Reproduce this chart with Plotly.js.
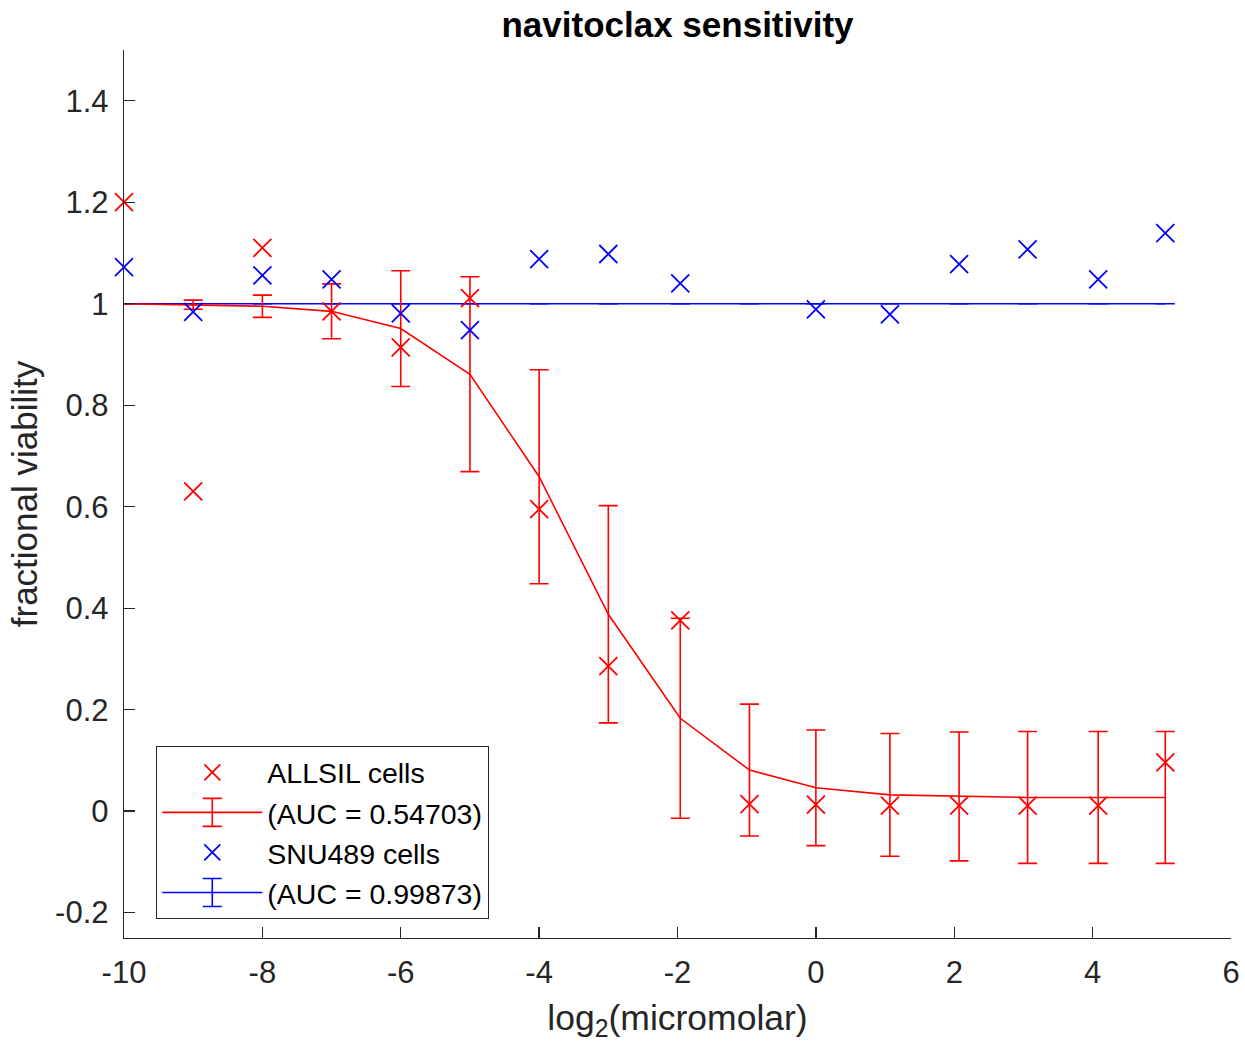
<!DOCTYPE html>
<html>
<head>
<meta charset="utf-8">
<script src="https://cdn.plot.ly/plotly-3.0.1.min.js"></script>
<style>
  html, body { margin: 0; padding: 0; background: #ffffff; }
  #chart { width: 1245px; height: 1042px; }
</style>
</head>
<body>
<div id="chart"></div>
<script>
// ---- data ----
const logConc = [-10, -9, -8, -7, -6, -5, -4, -3, -1.96, -0.96, 0, 1.07, 2.07, 3.06, 4.08, 5.05];

const allsilViability = [1.2, 0.63, 1.11, 0.985, 0.914, 1.011, 0.595, 0.286, 0.376, 0.014, 0.013, 0.011, 0.011, 0.011, 0.011, 0.096];
const allsilFit = [1.0, 0.998, 0.995, 0.985, 0.951, 0.861, 0.659, 0.388, 0.183, 0.081, 0.046, 0.032, 0.029, 0.027, 0.027, 0.027];
const allsilFitErr = [0.0, 0.009, 0.022, 0.054, 0.114, 0.192, 0.211, 0.214, 0.197, 0.13, 0.114, 0.121, 0.127, 0.13, 0.13, 0.13];

const snuViability = [1.072, 0.984, 1.056, 1.048, 0.981, 0.948, 1.088, 1.098, 1.04, null, 0.989, 0.979, 1.078, 1.107, 1.048, 1.139];
const snuFit = [1, 1, 1, 1, 1, 1, 1, 1, 1, 1, 1, 1, 1, 1, 1, 1];
const snuFitErr = [0, 0, 0, 0, 0, 0, 0, 0, 0, 0, 0, 0, 0, 0, 0, 0];

const seriesNames = ['ALLSIL cells', '(AUC = 0.54703)', 'SNU489 cells', '(AUC = 0.99873)'];

const xTickVals = [-10, -8, -6, -4, -2, 0, 2, 4, 6];
const xTickText = ['-10', '-8', '-6', '-4', '-2', '0', '2', '4', '6'];
const yTickVals = [-0.2, 0, 0.2, 0.4, 0.6, 0.8, 1, 1.2, 1.4];
const yTickText = ['-0.2', '0', '0.2', '0.4', '0.6', '0.8', '1', '1.2', '1.4'];

// ---- styling ----
const RED = '#ff0000';
const BLUE = '#0000ff';
const AXC = '#262626';
const FONT = '"Liberation Sans", Arial, Helvetica, sans-serif';

const traces = [
  {
    x: logConc, y: snuFit, name: seriesNames[3], legendrank: 4,
    type: 'scatter', mode: 'lines', cliponaxis: false,
    line: { color: BLUE, width: 1.6 },
    error_y: { type: 'data', array: snuFitErr, visible: true, color: BLUE, thickness: 1.6, width: 9.5 }
  },
  {
    x: logConc, y: allsilViability, name: seriesNames[0], legendrank: 1,
    type: 'scatter', mode: 'markers', cliponaxis: false,
    marker: { symbol: 'x-thin-open', size: 18, color: RED, line: { color: RED, width: 1.8 } }
  },
  {
    x: logConc, y: allsilFit, name: seriesNames[1], legendrank: 2,
    type: 'scatter', mode: 'lines', cliponaxis: false,
    line: { color: RED, width: 1.6 },
    error_y: { type: 'data', array: allsilFitErr, visible: true, color: RED, thickness: 1.6, width: 9.5 }
  },
  {
    x: logConc, y: snuViability, name: seriesNames[2], legendrank: 3,
    type: 'scatter', mode: 'markers', cliponaxis: false,
    marker: { symbol: 'x-thin-open', size: 18, color: BLUE, line: { color: BLUE, width: 1.8 } }
  }
];

const layout = {
  width: 1245, height: 1042,
  paper_bgcolor: '#ffffff', plot_bgcolor: '#ffffff',
  margin: { l: 124, r: 14, t: 50, b: 104, pad: 0 },
  font: { family: FONT, color: AXC, size: 31 },
  title: {
    text: '<b>navitoclax sensitivity</b>',
    font: { family: FONT, size: 35, color: '#000000' },
    x: 0.5, xref: 'paper', xanchor: 'center',
    y: 1 - 25 / 1042, yref: 'container', yanchor: 'middle'
  },
  xaxis: {
    range: [-10, 6], autorange: false,
    tickmode: 'array', tickvals: xTickVals, ticktext: xTickText,
    ticks: 'inside', ticklen: 11, tickwidth: 1.3, tickcolor: AXC,
    ticklabelstandoff: 6,
    showline: true, linecolor: AXC, linewidth: 1.3, mirror: false,
    showgrid: false, zeroline: false,
    tickfont: { family: FONT, size: 31, color: AXC },
    title: { text: 'log<sub>2</sub>(micromolar)', font: { family: FONT, size: 35.5, color: AXC }, standoff: 18 },
    automargin: false
  },
  yaxis: {
    range: [-0.25, 1.5], autorange: false,
    tickmode: 'array', tickvals: yTickVals, ticktext: yTickText,
    ticks: 'inside', ticklen: 11, tickwidth: 1.3, tickcolor: AXC,
    ticklabelstandoff: 8,
    showline: true, linecolor: AXC, linewidth: 1.3, mirror: false,
    showgrid: false, zeroline: false,
    tickfont: { family: FONT, size: 31, color: AXC },
    title: { text: 'fractional viability', font: { family: FONT, size: 35, color: AXC }, standoff: 6 },
    automargin: false
  },
  showlegend: true,
  legend: {
    x: (156 - 124) / 1107, y: (937 - 745) / 888, xanchor: 'left', yanchor: 'top',
    xref: 'paper', yref: 'paper',
    bgcolor: '#ffffff', bordercolor: AXC, borderwidth: 1.3,
    font: { family: FONT, size: 28.5, color: '#000000' },
    itemwidth: 100, tracegroupgap: 0, traceorder: 'normal'
  }
};

// Adds the error-bar "I" glyph to the legend symbols of the fitted-curve entries
function addLegendErrorGlyphs() {
  const gd = document.getElementById('chart');
  const items = gd.querySelectorAll('.legend .traces');
  items.forEach(function (item) {
    const d = item.__data__;
    const tr = d && d[0] && d[0].trace;
    if (!tr || !tr.error_y || !tr.error_y.visible) return;
    const lineG = item.querySelector('.legendlines path');
    if (!lineG) return;
    const bb = lineG.getBBox();
    const cx = bb.x + bb.width / 2;
    const h = 14, w = 9.5;
    const p = document.createElementNS('http://www.w3.org/2000/svg', 'path');
    p.setAttribute('d', 'M' + cx + ',' + (-h) + 'V' + h +
      'M' + (cx - w) + ',' + (-h) + 'H' + (cx + w) +
      'M' + (cx - w) + ',' + h + 'H' + (cx + w));
    p.setAttribute('stroke', tr.line.color);
    p.setAttribute('stroke-width', '1.6');
    p.setAttribute('fill', 'none');
    lineG.parentNode.appendChild(p);
  });
}

Plotly.newPlot('chart', traces, layout, { staticPlot: true, displayModeBar: false })
  .then(addLegendErrorGlyphs);
</script>
</body>
</html>
